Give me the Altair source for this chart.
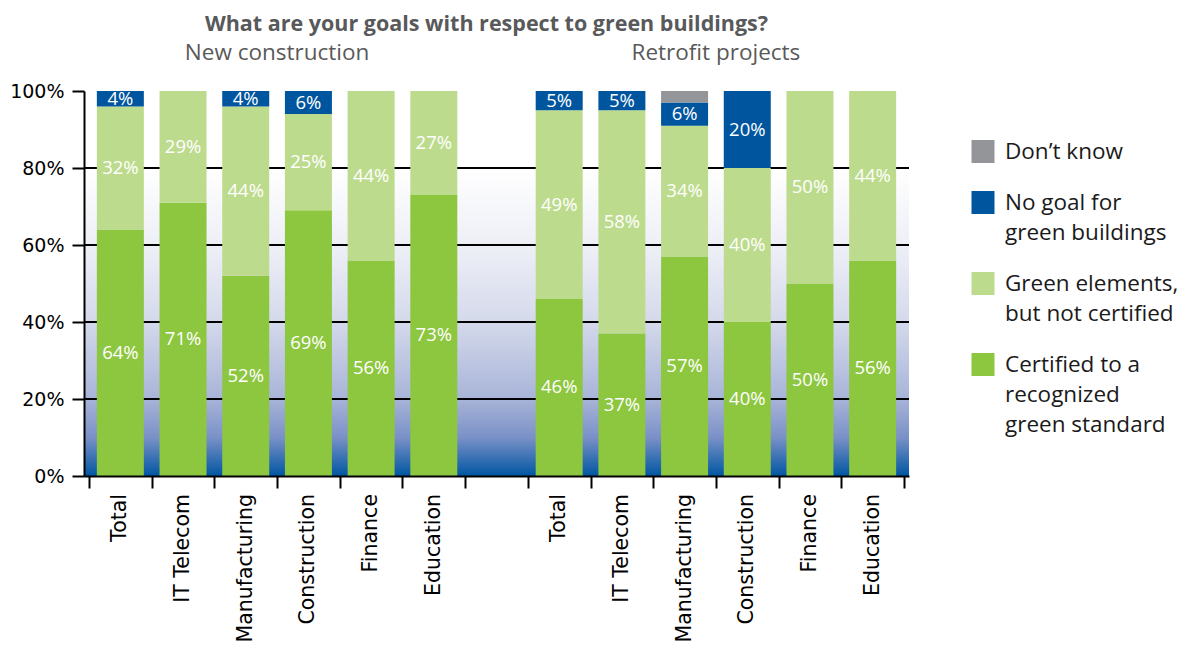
import altair as alt
import pandas as pd

# ---------------- data ----------------
groups = ["New construction", "Retrofit projects"]
group_keys = ["N", "R"]
sectors = ["Total", "IT Telecom", "Manufacturing", "Construction", "Finance", "Education"]
series = [
    "Certified to a recognized green standard",
    "Green elements, but not certified",
    "No goal for green buildings",
    "Don’t know",
]
legend_lines = [
    ["Certified to a", "recognized", "green standard"],
    ["Green elements,", "but not certified"],
    ["No goal for", "green buildings"],
    ["Don’t know"],
]
colors = ["#8dc63f", "#bddb8d", "#00559f", "#939598"]

new_certified = [64, 71, 52, 69, 56, 73]
new_elements = [32, 29, 44, 25, 44, 27]
new_nogoal = [4, 0, 4, 6, 0, 0]
new_dontknow = [0, 0, 0, 0, 0, 0]

ret_certified = [46, 37, 57, 40, 50, 56]
ret_elements = [49, 58, 34, 40, 50, 44]
ret_nogoal = [5, 5, 6, 20, 0, 0]
ret_dontknow = [0, 0, 3, 0, 0, 0]

y_ticks = [0, 0.2, 0.4, 0.6, 0.8, 1.0]
grid_values = [0.2, 0.4, 0.6, 0.8]

# ---------------- tables ----------------
vals = {
    "N": [new_certified, new_elements, new_nogoal, new_dontknow],
    "R": [ret_certified, ret_elements, ret_nogoal, ret_dontknow],
}
n = len(sectors)
n_slots = 2 * n + 1            # one empty slot between the groups
group_start = {"N": 0, "R": n + 1}

rows = []
cat_rows = []
for g in group_keys:
    for i, s in enumerate(sectors):
        idx = group_start[g] + i
        cat_rows.append({"idx": idx, "name": s})
        base = 0.0
        for k, ser in enumerate(series):
            v = vals[g][k][i]
            if v <= 0:
                continue
            rows.append({
                "idx": idx,
                "series": ser,
                "y0": base / 100,
                "y1": (base + v) / 100,
                "mid": (base + v / 2) / 100,
                "pct": f"{v}%" if k < 3 else "",
            })
            base += v
df = pd.DataFrame(rows)
cat_df = pd.DataFrame(cat_rows)

sub_df = pd.DataFrame({
    "group": groups,
    "xc": [group_start[g] + (n - 1) / 2 for g in group_keys],
})
grid_df = pd.DataFrame({"v": grid_values})
boundaries = [i - 0.5 for i in range(n_slots + 1)]

# legend layout (pixels, 30px per text line)
LINE = 30
sq_rows, txt_rows = [], []
pos = 49.0
for k in [3, 2, 1, 0]:
    sq_rows.append({"series": series[k], "ctr": pos + 11.5})
    for j, line in enumerate(legend_lines[k]):
        txt_rows.append({"txt": line, "yl": pos + 12 + j * LINE})
    pos += len(legend_lines[k]) * LINE + 21
leg_sq_df = pd.DataFrame(sq_rows)
leg_txt_df = pd.DataFrame(txt_rows)

# ---------------- chart ----------------
W, H = 825, 385
grad = alt.LinearGradient(
    gradient="linear", x1=0, x2=0, y1=0, y2=1,
    stops=[
        alt.GradientStop(color="#ffffff", offset=0),
        alt.GradientStop(color="#ffffff", offset=0.2),
        alt.GradientStop(color="#eceef6", offset=0.42),
        alt.GradientStop(color="#d4d9eb", offset=0.6),
        alt.GradientStop(color="#a8b4d8", offset=0.8),
        alt.GradientStop(color="#7a91c7", offset=0.9),
        alt.GradientStop(color="#0056a2", offset=1.0),
    ],
)

x_scale = alt.Scale(domain=[-0.5, n_slots - 0.5], nice=False, zero=False)
x_axis = alt.Axis(
    title=None, values=boundaries, labels=False, grid=False,
    domainColor="black", domainWidth=2, tickColor="black", tickWidth=2, tickSize=12,
    zindex=1,
)
y_scale = alt.Scale(domain=[0, 1], nice=False)
y_axis = alt.Axis(
    title=None, values=y_ticks, format="%", labelFontSize=19, labelFont="DejaVu Sans",
    labelColor="black", labelPadding=8, domainColor="black", domainWidth=2,
    tickColor="black", tickWidth=2, tickSize=12, grid=False, zindex=1,
)
color_scale = alt.Scale(domain=series, range=colors)

bg = alt.Chart(pd.DataFrame({"a": [0]})).mark_rect(color=grad).encode(
    x=alt.value(0), x2=alt.value(W), y=alt.value(0), y2=alt.value(H)
)
grid = alt.Chart(grid_df).mark_rule(color="black", strokeWidth=2).encode(
    y=alt.Y("v:Q", scale=y_scale, axis=y_axis),
    x=alt.value(0), x2=alt.value(W),
)
bars = alt.Chart(df).mark_bar(size=47).encode(
    x=alt.X("idx:Q", scale=x_scale, axis=x_axis),
    y=alt.Y("y1:Q", scale=y_scale),
    y2=alt.Y2("y0"),
    color=alt.Color("series:N", scale=color_scale, legend=None),
)
labels = alt.Chart(df).mark_text(
    color="white", fontSize=18.5, font="Open Sans", baseline="middle", align="center"
).encode(
    x=alt.X("idx:Q", scale=x_scale),
    y=alt.Y("mid:Q", scale=y_scale),
    text="pct:N",
)
cats = alt.Chart(cat_df).mark_text(
    color="black", fontSize=20.5, font="DejaVu Sans", angle=270, align="right", baseline="middle"
).encode(
    x=alt.X("idx:Q", scale=x_scale),
    y=alt.value(H + 18),
    text="name:N",
)
subs = alt.Chart(sub_df).mark_text(
    color="#595959", fontSize=22.5, font="Open Sans", baseline="middle", align="center"
).encode(
    x=alt.X("xc:Q", scale=x_scale),
    y=alt.value(-38),
    text="group:N",
)
leg_sq = alt.Chart(leg_sq_df).mark_square(size=529, opacity=1).encode(
    x=alt.value(W + 74),
    y=alt.Y("ctr:Q", scale=None),
    color=alt.Color("series:N", scale=color_scale, legend=None),
)
leg_txt = alt.Chart(leg_txt_df).mark_text(
    align="left", baseline="middle", fontSize=22.5, font="Open Sans", color="#1a1a1a",
).encode(
    x=alt.value(W + 96),
    y=alt.Y("yl:Q", scale=None),
    text="txt:N",
)

chart = (
    alt.layer(bg, grid, bars, labels, cats, subs, leg_sq, leg_txt)
    .properties(
        width=W, height=H,
        title=alt.TitleParams(
            "What are your goals with respect to green buildings?",
            fontSize=21.5, font="Open Sans", fontWeight="bold", color="#58595b",
            anchor="middle", frame="group", dx=-10, offset=7,
        ),
        padding={"left": 1, "top": 5, "right": 0, "bottom": 5},
    )
    .configure_view(stroke=None)
)

chart.save("out.html", embed_options={"renderer": "svg", "actions": False})
